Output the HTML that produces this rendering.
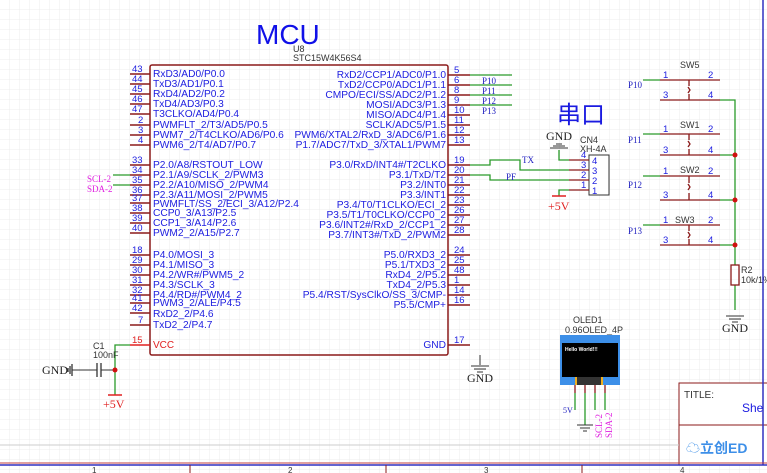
<!DOCTYPE html>
<html><head><meta charset="utf-8"><style>
html,body{margin:0;padding:0;background:#fff}
svg{display:block}
text{font-family:"Liberation Sans","Noto Sans CJK SC",sans-serif}
.b{fill:#2020e0;font-size:10.2px}
.n{fill:#2020e0;font-size:9.5px}
.s{font-family:"Liberation Serif",serif}
</style></head><body>
<svg width="767" height="473" viewBox="0 0 767 473" xmlns="http://www.w3.org/2000/svg">
<defs><pattern id="g" width="10" height="10" patternUnits="userSpaceOnUse"><path d="M10 0V10H0" fill="none" stroke="#ececec" stroke-width="1"/></pattern></defs>
<rect width="767" height="473" fill="url(#g)"/>
<!-- MCU -->
<text x="256" y="44" font-size="28" fill="#1010e8">MCU</text>
<text x="293" y="52" font-size="9" fill="#333">U8</text>
<text x="293" y="61" font-size="9" fill="#333">STC15W4K56S4</text>
<rect x="150" y="65" width="298" height="290" fill="none" stroke="#8b1a1a" stroke-width="1.5" rx="2"/>
<g stroke="#8b1a1a" stroke-width="1.5">
<path d="M130 74H150M130 84H150M130 94H150M130 104H150M130 114H150M130 125H150M130 135H150M130 145H150M130 165H150M130 175H150M130 185H150M130 195H150M130 203H150M130 213H150M130 223H150M130 233H150M130 255H150M130 265H150M130 275H150M130 285H150M130 295H150M130 303H150M130 313H150M130 325H150"/>
<path d="M448 75H470M448 85H470M448 95H470M448 105H470M448 115H470M448 125H470M448 135H470M448 145H470M448 165H470M448 175H470M448 185H470M448 195H470M448 205H470M448 215H470M448 225H470M448 235H470M448 255H470M448 265H470M448 275H470M448 285H470M448 295H470M448 305H470M448 345H470"/>
</g>
<path d="M130 345H150" stroke="#e02020" stroke-width="1.5"/>
<g class="n">
<text x="132" y="72">43</text><text x="132" y="82">44</text><text x="132" y="92">45</text><text x="132" y="102">46</text><text x="132" y="112">47</text><text x="138" y="123">2</text><text x="138" y="133">3</text><text x="138" y="143">4</text>
<text x="132" y="163">33</text><text x="132" y="173">34</text><text x="132" y="183">35</text><text x="132" y="193">36</text><text x="132" y="201">37</text><text x="132" y="211">38</text><text x="132" y="221">39</text><text x="132" y="231">40</text>
<text x="132" y="253">18</text><text x="132" y="263">29</text><text x="132" y="273">30</text><text x="132" y="283">31</text><text x="132" y="293">32</text><text x="132" y="301">41</text><text x="132" y="311">42</text><text x="138" y="323">7</text>
<text x="454" y="73">5</text><text x="454" y="83">6</text><text x="454" y="93">8</text><text x="454" y="103">9</text><text x="454" y="113">10</text><text x="454" y="123">11</text><text x="454" y="133">12</text><text x="454" y="143">13</text>
<text x="454" y="163">19</text><text x="454" y="173">20</text><text x="454" y="183">21</text><text x="454" y="193">22</text><text x="454" y="203">23</text><text x="454" y="213">26</text><text x="454" y="223">27</text><text x="454" y="233">28</text>
<text x="454" y="253">24</text><text x="454" y="263">25</text><text x="454" y="273">48</text><text x="454" y="283">1</text><text x="454" y="293">14</text><text x="454" y="303">16</text><text x="454" y="343">17</text>
</g>
<text x="132" y="343" font-size="9.5" fill="#e02020">15</text>
<g class="b">
<text x="153" y="77">RxD3/AD0/P0.0</text><text x="153" y="87">TxD3/AD1/P0.1</text><text x="153" y="97">RxD4/AD2/P0.2</text><text x="153" y="107">TxD4/AD3/P0.3</text><text x="153" y="117">T3CLKO/AD4/P0.4</text><text x="153" y="128">PWMFLT_2/T3/AD5/P0.5</text><text x="153" y="138">PWM7_2/T4CLKO/AD6/P0.6</text><text x="153" y="148">PWM6_2/T4/AD7/P0.7</text>
<text x="153" y="168">P2.0/A8/RSTOUT_LOW</text><text x="153" y="178">P2.1/A9/SCLK_2/PWM3</text><text x="153" y="188">P2.2/A10/MISO_2/PWM4</text><text x="153" y="198">P2.3/A11/MOSI_2/PWM5</text><text x="153" y="207">PWMFLT/SS_2/ECI_3/A12/P2.4</text><text x="153" y="216">CCP0_3/A13/P2.5</text><text x="153" y="226">CCP1_3/A14/P2.6</text><text x="153" y="236">PWM2_2/A15/P2.7</text>
<text x="153" y="258">P4.0/MOSI_3</text><text x="153" y="268">P4.1/MISO_3</text><text x="153" y="278">P4.2/WR#/PWM5_2</text><text x="153" y="288">P4.3/SCLK_3</text><text x="153" y="298">P4.4/RD#/PWM4_2</text><text x="153" y="306">PWM3_2/ALE/P4.5</text><text x="153" y="317">RxD2_2/P4.6</text><text x="153" y="328">TxD2_2/P4.7</text>
</g>
<text x="153" y="348" font-size="10" fill="#e02020">VCC</text>
<g class="b" text-anchor="end">
<text x="446" y="78">RxD2/CCP1/ADC0/P1.0</text><text x="446" y="88">TxD2/CCP0/ADC1/P1.1</text><text x="446" y="98">CMPO/ECI/SS/ADC2/P1.2</text><text x="446" y="108">MOSI/ADC3/P1.3</text><text x="446" y="118">MISO/ADC4/P1.4</text><text x="446" y="128">SCLK/ADC5/P1.5</text><text x="446" y="138">PWM6/XTAL2/RxD_3/ADC6/P1.6</text><text x="446" y="148">P1.7/ADC7/TxD_3/XTAL1/PWM7</text>
<text x="446" y="168">P3.0/RxD/INT4#/T2CLKO</text><text x="446" y="178">P3.1/TxD/T2</text><text x="446" y="188">P3.2/INT0</text><text x="446" y="198">P3.3/INT1</text><text x="446" y="208">P3.4/T0/T1CLKO/ECI_2</text><text x="446" y="218">P3.5/T1/T0CLKO/CCP0_2</text><text x="446" y="228">P3.6/INT2#/RxD_2/CCP1_2</text><text x="446" y="238">P3.7/INT3#/TxD_2/PWM2</text>
<text x="446" y="258">P5.0/RXD3_2</text><text x="446" y="268">P5.1/TXD3_2</text><text x="446" y="278">RxD4_2/P5.2</text><text x="446" y="288">TxD4_2/P5.3</text><text x="446" y="298">P5.4/RST/SysClkO/SS_3/CMP-</text><text x="446" y="308">P5.5/CMP+</text><text x="446" y="348">GND</text>
</g>
<!-- wires -->
<g stroke="#2a9a2a" stroke-width="1.3" fill="none">
<path d="M470 75H512M470 85H512M470 95H512M470 105H512"/>
<path d="M113 175H130M113 185H130"/>
<path d="M470 165H490V160H520V170H569"/>
<path d="M470 175H490V180H569"/>
<path d="M559 150V160H569M569 190H559V196"/>
<path d="M115 370V345H130M115 370V395"/>
<path d="M643 80H660M643 134H660M643 176H660M643 225H660"/>
<path d="M720 100H735V265M735 285V310"/>
<path d="M720 155H735M720 200H735M720 245H735"/>
<path d="M575 393V410M585 393V425M595 393V410M605 393V410"/>
</g>
<g font-size="9" fill="#2020c0" class="s"><text x="482" y="84" class="s">P10</text><text x="482" y="94" class="s">P11</text><text x="482" y="104" class="s">P12</text><text x="482" y="114" class="s">P13</text>
<text x="522" y="163" class="s">TX</text><text x="506" y="180" class="s">PF</text></g>
<text x="87" y="182" font-size="9" fill="#e020e0" class="s">SCL-2</text><text x="87" y="192" font-size="9" fill="#e020e0" class="s">SDA-2</text>
<!-- cap -->
<path d="M72 370H97M101 370H115" stroke="#333" stroke-width="1"/>
<path d="M97 363V377M101 363V377M72 364V376M70 366V374M68 368V372" stroke="#333" stroke-width="1.3"/>
<circle cx="115" cy="370" r="2.5" fill="#d01010"/>
<text x="93" y="349" font-size="9" fill="#333">C1</text><text x="93" y="358" font-size="9" fill="#333">100nF</text>
<text x="42" y="374" font-size="12" fill="#222" class="s">GND</text>
<path d="M108 395H122" stroke="#e02020" stroke-width="1.5"/>
<text x="103" y="408" font-size="12" fill="#e02020" class="s">+5V</text>
<!-- mcu gnd -->
<path d="M480 355V365M471 366H489M474 369H486M477 372H483" stroke="#333" stroke-width="1"/>
<text x="467" y="382" font-size="12" fill="#222" class="s">GND</text>
<!-- CN4 -->
<text x="557" y="123" font-size="24" fill="#1a1ae0" font-family="'Noto Sans CJK SC',sans-serif">串口</text>
<text x="546" y="140" font-size="12" fill="#222" class="s">GND</text>
<path d="M550 148H568M553 146H565M556 144H562" stroke="#333" stroke-width="1"/>
<text x="580" y="143" font-size="9" fill="#333">CN4</text><text x="580" y="152" font-size="9" fill="#333">XH-4A</text>
<rect x="589" y="155" width="20" height="40" fill="#fff" stroke="#333" stroke-width="1"/>
<path d="M569 160H589M569 170H589M569 180H589M569 190H589" stroke="#8b1a1a" stroke-width="1.3"/>
<g class="n"><text x="581" y="158">4</text><text x="581" y="168">3</text><text x="581" y="178">2</text><text x="581" y="188">1</text><text x="592" y="164">4</text><text x="592" y="174">3</text><text x="592" y="184">2</text><text x="592" y="194">1</text></g>
<path d="M552 196H566" stroke="#e02020" stroke-width="1.5"/>
<text x="548" y="210" font-size="12" fill="#e02020" class="s">+5V</text>
<!-- switches -->
<g stroke="#8b1a1a" stroke-width="1.3" fill="none">
<path d="M660 80H720M660 100H720M689 80V86M689 94V100M660 134H720M660 155H720M689 134V140M689 149V155M660 176H720M660 200H720M689 176V183M689 193V200M660 225H720M660 245H720M689 225V231M689 239V245"/>
<path d="M688 87l2 3-2 3M688 141l2 3-2 3M688 184l2 3-2 3M688 232l2 3-2 3"/>
<rect x="731" y="265" width="8" height="20"/>
</g>
<g class="n"><text x="663" y="78">1</text><text x="708" y="78">2</text><text x="663" y="98">3</text><text x="708" y="98">4</text>
<text x="663" y="132">1</text><text x="708" y="132">2</text><text x="663" y="153">3</text><text x="708" y="153">4</text>
<text x="663" y="174">1</text><text x="708" y="174">2</text><text x="663" y="198">3</text><text x="708" y="198">4</text>
<text x="663" y="223">1</text><text x="708" y="223">2</text><text x="663" y="243">3</text><text x="708" y="243">4</text></g>
<g font-size="9" fill="#333"><text x="680" y="68">SW5</text><text x="680" y="128">SW1</text><text x="680" y="173">SW2</text><text x="675" y="223">SW3</text><text x="741" y="273">R2</text><text x="741" y="283">10k/1%</text></g>
<g font-size="9" fill="#2020c0" class="s"><text x="628" y="88" class="s">P10</text><text x="628" y="143" class="s">P11</text><text x="628" y="188" class="s">P12</text><text x="628" y="234" class="s">P13</text></g>
<g fill="#d01010"><circle cx="735" cy="155" r="2.5"/><circle cx="735" cy="200" r="2.5"/><circle cx="735" cy="245" r="2.5"/></g>
<path d="M726 316H744M729 319H741M732 322H738" stroke="#333" stroke-width="1"/>
<text x="722" y="332" font-size="12" fill="#222" class="s">GND</text>
<!-- OLED -->
<text x="573" y="323" font-size="9" fill="#333">OLED1</text><text x="565" y="333" font-size="9" fill="#333">0.96OLED_4P</text>
<rect x="560" y="335" width="60" height="50" fill="#3d8fe8"/>
<rect x="562" y="343" width="56" height="34" fill="#000"/>
<rect x="576" y="377" width="26" height="8" fill="#333"/>
<rect x="575" y="377" width="2" height="8" fill="#f0b020"/><rect x="601" y="377" width="2" height="8" fill="#f0b020"/>
<text x="565" y="351" font-size="5" fill="#fff" font-weight="bold">Hello World!!!</text>
<path d="M575 385V393M585 385V393M595 385V393M605 385V393" stroke="#8b1a1a" stroke-width="1.3"/>
<path d="M577 425H593M580 428H590M583 431H587" stroke="#333" stroke-width="1"/>
<text x="563" y="413" font-size="8" fill="#2020c0" class="s">5V</text>
<text transform="translate(602,438) rotate(-90)" font-size="9" fill="#e020e0" class="s">SCL-2</text>
<text transform="translate(612,438) rotate(-90)" font-size="9" fill="#e020e0" class="s">SDA-2</text>
<!-- title block -->
<rect x="679" y="383" width="95" height="82" fill="#fff" stroke="#8b1a1a" stroke-width="1"/>
<path d="M679 425H767" stroke="#8b1a1a"/>
<text x="684" y="398" font-size="10" fill="#333">TITLE:</text>
<text x="742" y="412" font-size="12" fill="#1a1ae0">She</text>
<text x="686" y="453" font-size="14" font-weight="bold" fill="#3d8fe8" font-family="'Noto Sans CJK SC',sans-serif">☁立创ED</text>
<path d="M763 0V465" stroke="#3030c0" stroke-width="1.5"/>
<path d="M0 465H767" stroke="#3030c0" stroke-width="1.5"/>
<path d="M0 463H767" stroke="#c04040" stroke-width="1"/>
<path d="M0 445H679" stroke="#ccc" stroke-width="1"/>
<path d="M190 465V473M386 465V473M582 465V473" stroke="#8b1a1a"/>
<g font-size="8" fill="#333"><text x="92" y="473">1</text><text x="288" y="473">2</text><text x="484" y="473">3</text><text x="680" y="473">4</text></g>
</svg>
</body></html>
